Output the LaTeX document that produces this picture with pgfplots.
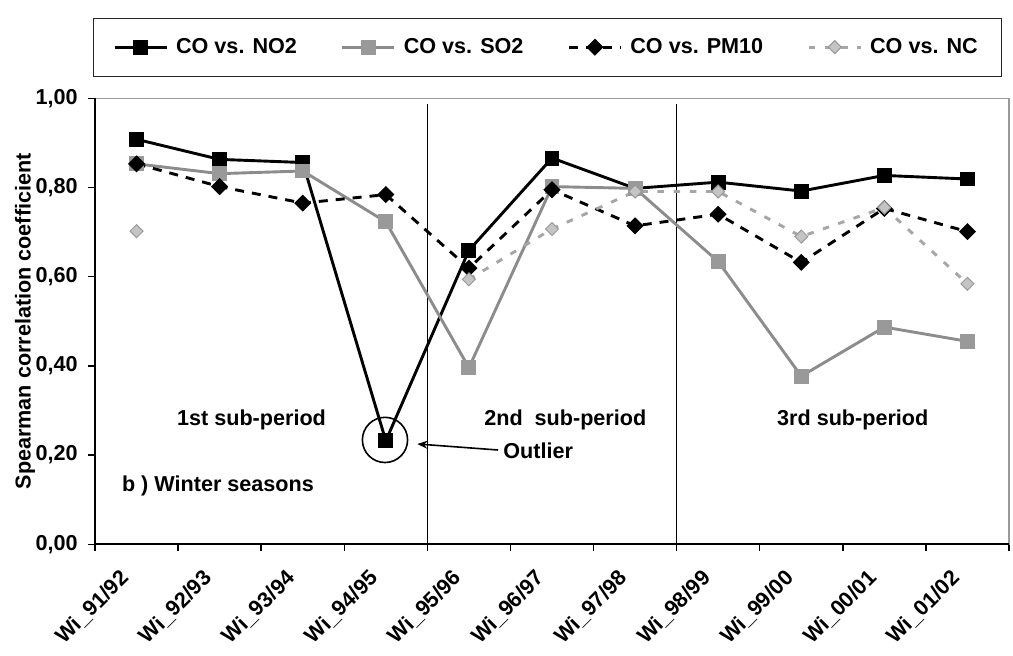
\documentclass[border=0pt]{standalone}
\usepackage{fontspec}
\setmainfont{Liberation Sans}
\usepackage{pgfplots}
\usepackage{pgfplotstable}
\pgfplotsset{compat=1.18}
\usetikzlibrary{arrows.meta}
\newcommand\f{\fontsize{10.8}{13}\selectfont\bfseries}
\definecolor{sogray}{HTML}{8C8C8C}
\definecolor{somark}{HTML}{999999}
\definecolor{ncgray}{HTML}{A6A6A6}
\definecolor{ncfill}{HTML}{C4C4C4}
\definecolor{ncdraw}{HTML}{999999}
\pgfplotstableread{
i no2 so2 pm10 nc
0 0.908 0.853 0.853 0.702
1 0.863 0.831 0.802 nan
2 0.856 0.837 0.765 nan
3 0.232 0.723 0.784 nan
4 0.659 0.396 0.619 0.594
5 0.866 0.802 0.795 0.707
6 0.798 0.798 0.714 0.791
7 0.812 0.634 0.740 0.791
8 0.792 0.377 0.632 0.690
9 0.827 0.487 0.753 0.755
10 0.819 0.455 0.701 0.584
}\data
\begin{document}
\begin{tikzpicture}
\begin{axis}[
  width=457pt, height=223pt, scale only axis,
  xmin=-0.5, xmax=10.5, ymin=0, ymax=1,
  xtick={0,...,10},
  xticklabels={Wi\_91/92,Wi\_92/93,Wi\_93/94,Wi\_94/95,Wi\_95/96,Wi\_96/97,Wi\_97/98,Wi\_98/99,Wi\_99/00,Wi\_00/01,Wi\_01/02},
  minor xtick={-0.5,0.5,1.5,2.5,3.5,4.5,5.5,6.5,7.5,8.5,9.5,10.5},
  ytick={0,0.2,0.4,0.6,0.8,1},
  yticklabels={{0,00},{0,20},{0,40},{0,60},{0,80},{1,00}},
  xtick pos=bottom, ytick pos=left,
  tick align=outside,
  major x tick style={draw=none},
  major tick length=3.6pt, minor tick length=3.4pt,
  tick style={black, line width=0.75pt},
  axis line style={draw=black!40, line width=0.6pt},
  xticklabel style={font=\f, inner sep=0pt, xshift=-5.5pt, yshift=-11.5pt, anchor=east, rotate=45},
  yticklabel style={font=\f, xshift=-1.5pt},
  ylabel={Spearman correlation coefficient},
  ylabel style={font=\f, at={(axis description cs:-0.0765,0.5)}, anchor=center},
  unbounded coords=jump,
  clip=false,
  legend columns=4,
  legend cell align=left,
  legend style={at={(axis description cs:0,1)}, anchor=south west, xshift=-1.15pt, yshift=10.8pt,
    draw=black!85, line width=0.5pt, inner xsep=10pt, inner ysep=8pt, font=\f,
    /tikz/every odd column/.append style={column sep=2pt},
    /tikz/every even column/.append style={column sep=20pt}},
  legend image code/.code={\draw[mark repeat=2,mark phase=2,#1] plot coordinates {(0pt,0pt)(13pt,0pt)(26pt,0pt)};},
]
\coordinate (bbsw) at (rel axis cs:0,0);
\draw[black, line width=0.85pt] (rel axis cs:0,1) -- (rel axis cs:0,0) -- (rel axis cs:1,0);
\draw[black, line width=0.5pt] (axis cs:3.5,0) -- (axis cs:3.5,0.9865);
\draw[black, line width=0.5pt] (axis cs:6.5,0) -- (axis cs:6.5,0.9865);

\addplot[black, line width=1.45pt, mark=square*, mark size=3pt, mark options={solid}] table[x=i,y=no2]{\data};
\addplot[sogray, line width=1.45pt, mark=square*, mark size=3pt, mark options={solid, fill=somark, draw=somark}] table[x=i,y=so2]{\data};
\addplot[black, line width=1.45pt, dash pattern=on 4.5pt off 4pt, mark=square*, mark size=2.3pt, mark options={solid, rotate=45}] table[x=i,y=pm10]{\data};
\addplot[ncgray, line width=1.45pt, dash pattern=on 3.3pt off 4.8pt, mark=square*, mark size=2.3pt, mark options={solid, rotate=45, fill=ncfill, draw=ncdraw, line width=0.5pt}] table[x=i,y=nc]{\data};
\legend{CO vs. NO2, CO vs. SO2, CO vs. PM10, CO vs. NC}

\node[font=\f, anchor=base] at (axis cs:1.384,0.2668) {1st sub-period};
\node[font=\f, anchor=base] at (axis cs:5.16,0.2668) {2nd\ \ sub-period};
\node[font=\f, anchor=base] at (axis cs:8.62,0.2668) {3rd sub-period};
\node[font=\f, anchor=base] at (axis cs:0.98,0.118) {b ) Winter seasons};
\node[font=\f, anchor=base west, inner sep=0pt] at (axis cs:4.41,0.1928) {Outlier};
\draw[black, line width=0.8pt] (axis cs:2.99,0.234) circle[radius=11.3pt];
\draw[black, line width=0.8pt, -{Stealth[length=5pt,width=4pt]}] (axis cs:4.35,0.2114) -- (axis cs:3.38,0.2249);
\end{axis}
\pgfresetboundingbox
\path ([shift={(-47.5pt,-55.85pt)}]bbsw) rectangle ([shift={(459pt,272.15pt)}]bbsw);
\end{tikzpicture}
\end{document}
